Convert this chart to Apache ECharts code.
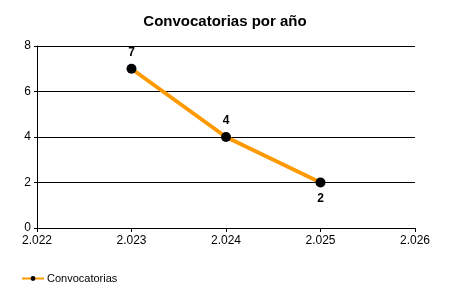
<!DOCTYPE html>
<html><head><meta charset="utf-8">
<script src="https://cdn.jsdelivr.net/npm/echarts@6/dist/echarts.min.js"></script>
<style>html,body{margin:0;padding:0;background:#fff}#c{width:450px;height:300px}</style>
</head><body><div id="c"></div>
<script>
const title = 'Convocatorias por año';
const seriesName = 'Convocatorias';
const years = [2023, 2024, 2025];
const values = [7, 4, 2];
const labelPos = ['top', 'top', 'bottom'];
const xMin = 2022, xMax = 2026;
const yTicks = [0, 2, 4, 6, 8];

const fmtThousands = v => String(v).replace(/(\d)(\d{3})$/, '$1.$2');
const font = '"Liberation Sans", Arial, sans-serif';
const chart = echarts.init(document.getElementById('c'), null, {renderer: 'canvas'});
chart.setOption({
  animation: false,
  title: {text: title, left: 'center', top: 9,
    textStyle: {fontFamily: font, fontSize: 15, fontWeight: 'bold', color: '#000'}},
  grid: {left: 37, right: 35, top: 46, bottom: 72, containLabel: false},
  legend: {left: 16, top: 268, itemWidth: 22, itemHeight: 6, itemGap: 4,
    data: [{name: seriesName}],
    textStyle: {fontFamily: font, fontSize: 11, color: '#000', padding: [0,0,0,-2]}},
  xAxis: {type: 'value', min: xMin, max: xMax, interval: 1,
    axisLine: {lineStyle: {color: '#000', width: 1}},
    axisTick: {show: true, length: 4, lineStyle: {color: '#000'}},
    splitLine: {show: false},
    axisLabel: {formatter: fmtThousands, fontFamily: font, fontSize: 12, color: '#000', margin: 7}},
  yAxis: {type: 'value', min: yTicks[0], max: yTicks[yTicks.length-1], interval: 2,
    axisLine: {show: true, lineStyle: {color: '#000', width: 1}},
    axisTick: {show: true, length: 3, lineStyle: {color: '#000'}},
    splitLine: {show: true, lineStyle: {color: '#000', width: 1}},
    axisLabel: {fontFamily: font, fontSize: 12, color: '#000', margin: 6}},
  series: [{
    name: seriesName, type: 'line',
    data: years.map((y, i) => ({value: [y, values[i]], label: {position: labelPos[i]}})),
    symbol: 'circle', symbolSize: 10,
    itemStyle: {color: '#000'},
    lineStyle: {color: '#FF9900', width: 4},
    label: {show: true, formatter: p => p.value[1], fontFamily: font, fontSize: 12,
      fontWeight: 'bold', color: '#000', distance: 5}
  }]
});
</script></body></html>
